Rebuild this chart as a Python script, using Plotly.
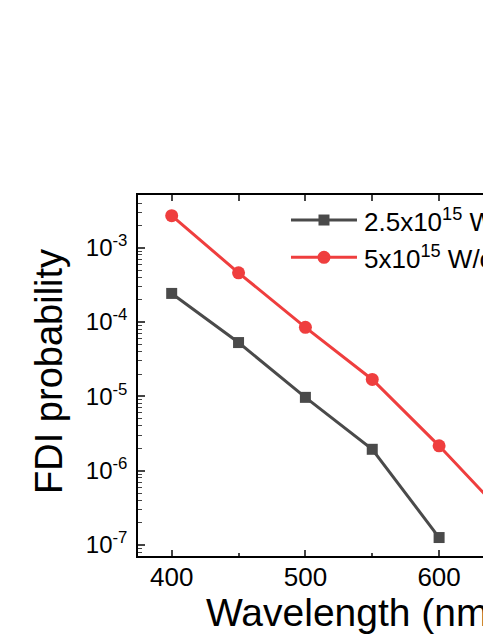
import plotly.graph_objects as go

# wavelength in nm
wavelength = [400, 450, 500, 550, 600]
wavelength_red = [400, 450, 500, 550, 600, 650]

prob_25e15 = [2.43e-4, 5.3e-5, 9.7e-6, 1.94e-6, 1.26e-7]
prob_5e15 = [2.70e-3, 4.6e-4, 8.5e-5, 1.69e-5, 2.16e-6, 2.4e-7]

legend_names = ["2.5x10<sup>15</sup> W/cm<sup>2</sup>", "5x10<sup>15</sup> W/cm<sup>2</sup>"]

y_tickvals = [1e-7, 1e-6, 1e-5, 1e-4, 1e-3]
y_ticktext = ["10<sup>-7</sup>", "10<sup>-6</sup>", "10<sup>-5</sup>", "10<sup>-4</sup>", "10<sup>-3</sup>"]

FONT = "Liberation Sans, Arial, sans-serif"
GRAY = "#4a4a4a"
RED = "#ef3e3e"

fig = go.Figure()
fig.add_trace(go.Scatter(x=wavelength, y=prob_25e15, name=legend_names[0], mode="lines+markers",
                         line=dict(color=GRAY, width=3),
                         marker=dict(symbol="square", size=11, color=GRAY)))
fig.add_trace(go.Scatter(x=wavelength_red, y=prob_5e15, name=legend_names[1], mode="lines+markers",
                         line=dict(color=RED, width=3),
                         marker=dict(symbol="circle", size=13, color=RED)))
# dummy trace so the top axis gets drawn
fig.add_trace(go.Scatter(x=[400], y=[1e-3], xaxis="x2", mode="markers",
                         marker=dict(opacity=0), showlegend=False, hoverinfo="skip"))

# the right part of the frame runs past the page edge, as in the original
x_range = [374.8, 644.8]

fig.update_layout(
    width=491, height=635,
    margin=dict(l=130, r=0, t=187, b=87),
    paper_bgcolor="white", plot_bgcolor="white",
    showlegend=False,
    font=dict(family=FONT, color="black"),
    xaxis=dict(range=x_range, tickvals=[400, 500, 600], ticks="inside", ticklen=6, tickwidth=1.5,
               showline=True, linecolor="black", linewidth=1.5, showgrid=False, zeroline=False,
               tickfont=dict(size=26, family=FONT), ticklabelstandoff=-3,
               minor=dict(tickvals=[450, 550], ticks="inside", ticklen=3, tickwidth=1.5, showgrid=False)),
    xaxis2=dict(range=x_range, overlaying="x", side="top", tickvals=[400, 450, 500, 550, 600],
                ticks="inside", ticklen=6, tickwidth=1.5, showticklabels=False,
                showline=True, linecolor="black", linewidth=1.5, showgrid=False, zeroline=False),
    yaxis=dict(type="log", range=[-7.148, -2.29], tickvals=y_tickvals, ticktext=y_ticktext,
               ticks="inside", ticklen=7, tickwidth=1.5,
               showline=True, linecolor="black", linewidth=1.5, showgrid=False, zeroline=False,
               tickfont=dict(size=24, family=FONT), ticklabelstandoff=4,
               minor=dict(dtick="D1", ticks="inside", ticklen=4, tickwidth=1, showgrid=False)),
)

# custom legend (long sample lines as in the original)
legend_rows = [(0.9307, GRAY, "square", 11), (0.8274, RED, "circle", 13)]
for (yp, col, sym, sz), label in zip(legend_rows, legend_names):
    fig.add_shape(type="line", xref="paper", yref="paper", x0=0.4238, x1=0.6066, y0=yp, y1=yp,
                  line=dict(color=col, width=3))
    fig.add_annotation(xref="paper", yref="paper", x=0.6197, y=yp, text=label, showarrow=False,
                       xanchor="left", yanchor="middle", font=dict(size=26, family=FONT, color="black"))
    fig.add_trace(go.Scatter(x=[0.5152], y=[yp], xaxis="x3", yaxis="y3", mode="markers",
                             marker=dict(symbol=sym, size=sz, color=col), showlegend=False,
                             hoverinfo="skip", cliponaxis=False))

fig.update_layout(
    xaxis3=dict(range=[0, 1], overlaying="x", visible=False),
    yaxis3=dict(range=[0, 1], overlaying="y", visible=False),
)

# axis titles
fig.add_annotation(xref="paper", yref="paper", x=0.1828, y=-0.0914, text="Wavelength (nm)",
                   showarrow=False, xanchor="left", yanchor="top",
                   font=dict(size=39, family=FONT, color="black"))
fig.add_annotation(xref="paper", yref="paper", x=-0.2465, y=0.51, text="FDI probability",
                   showarrow=False, textangle=-90, xanchor="center", yanchor="middle",
                   font=dict(size=38, family=FONT, color="black"))

fig.write_html("out.html")
